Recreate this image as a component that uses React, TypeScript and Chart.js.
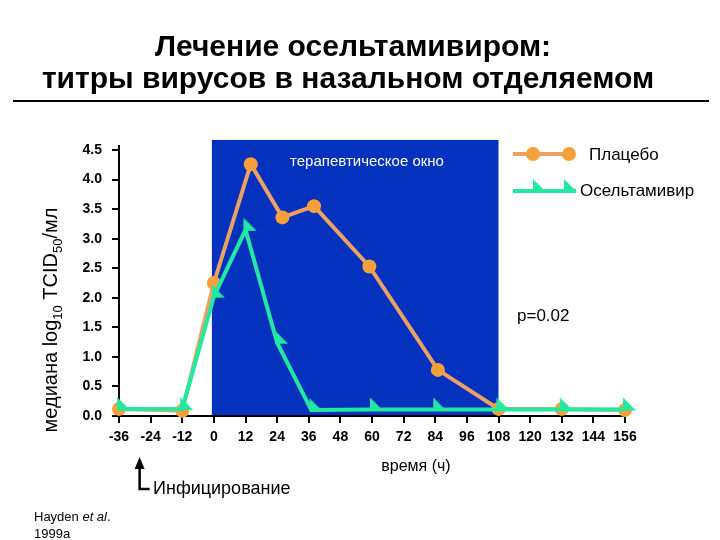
import React, { useEffect, useRef } from "react";
import { Chart, registerables } from "chart.js";

Chart.register(...registerables);

// ---- data ----
const xTickMin = -36;
const xTickMax = 156;
const xTickStep = 12;
const yTickMin = 0;
const yTickMax = 4.5;
const yTickStep = 0.5;

const placeboHours = [-36, -12, 0, 14, 26, 38, 59, 85, 108, 132, 156];
const placeboTiter = [0.12, 0.09, 2.25, 4.26, 3.36, 3.55, 2.53, 0.78, 0.12, 0.12, 0.1];

const oseltamivirHours = [-36, -12, 0, 12, 24, 37, 60, 84, 108, 132, 156];
const oseltamivirTiter = [0.12, 0.12, 2.02, 3.15, 1.24, 0.1, 0.11, 0.11, 0.11, 0.11, 0.11];

const windowStart = 0;
const windowEnd = 108;
const windowTop = 4.67;
const infectionHour = -24;

const titleLines = ["Лечение осельтамивиром:", "титры вирусов в назальном отделяемом"];
const seriesNames = ["Плацебо", "Осельтамивир"];
const windowLabel = "терапевтическое окно";
const pValueLabel = "p=0.02";
const xTitle = "время (ч)";
const infectionLabel = "Инфицирование";

// ---- styles ----
const FONT = '"Liberation Sans", Arial, Helvetica, sans-serif';
const BLUE = "#0431BE";
const ORANGE_LINE = "#EBA064";
const ORANGE_PT = "#F6A03C";
const GREEN = "#22E8A2";

function makeTriangle(): HTMLCanvasElement {
  const c = document.createElement("canvas");
  c.width = 26;
  c.height = 26;
  const g = c.getContext("2d")!;
  g.fillStyle = GREEN;
  g.beginPath();
  g.moveTo(11, 1);
  g.lineTo(11, 14);
  g.lineTo(24, 14);
  g.closePath();
  g.fill();
  return c;
}

export default function App() {
  const ref = useRef<HTMLCanvasElement | null>(null);

  useEffect(() => {
    if (!ref.current) return;
    const tri = makeTriangle();

    const annot = {
      id: "annot",
      beforeDraw(chart: any) {
        const { ctx, scales, chartArea } = chart;
        const x = scales.x;
        const y = scales.y;
        ctx.save();
        ctx.fillStyle = BLUE;
        const l = x.getPixelForValue(windowStart) - 2;
        const r = x.getPixelForValue(windowEnd);
        const t = y.getPixelForValue(windowTop);
        ctx.fillRect(l, t, r - l, chartArea.bottom - t);
        ctx.restore();
      },
      afterDraw(chart: any) {
        const { ctx, scales, chartArea } = chart;
        const x = scales.x;
        ctx.save();
        ctx.fillStyle = "#000";

        // extend y axis line slightly above top tick
        ctx.fillRect(chartArea.left - 1, chartArea.top - 5, 2, 6);

        ctx.textAlign = "center";
        ctx.textBaseline = "middle";

        // title
        ctx.font = `bold 30px ${FONT}`;
        ctx.fillText(titleLines[0], 353, 48, 412);
        ctx.fillText(titleLines[1], 348, 80, 616);
        ctx.fillRect(13, 100, 696, 2);

        // window label
        ctx.fillStyle = "#fff";
        ctx.font = `15px ${FONT}`;
        ctx.fillText(windowLabel, 367, 162);

        // p-value
        ctx.fillStyle = "#000";
        ctx.font = `17px ${FONT}`;
        ctx.textAlign = "left";
        ctx.fillText(pValueLabel, 517, 316);

        // legend
        ctx.strokeStyle = ORANGE_LINE;
        ctx.lineWidth = 4;
        ctx.beginPath();
        ctx.moveTo(513, 154);
        ctx.lineTo(572, 154);
        ctx.stroke();
        ctx.fillStyle = ORANGE_PT;
        for (const cx of [533, 569]) {
          ctx.beginPath();
          ctx.arc(cx, 154, 7, 0, Math.PI * 2);
          ctx.fill();
        }
        ctx.strokeStyle = GREEN;
        ctx.beginPath();
        ctx.moveTo(513, 191);
        ctx.lineTo(576, 191);
        ctx.stroke();
        for (const cx of [535, 566]) {
          ctx.drawImage(tri, cx - 13, 191 - 13);
        }
        ctx.fillStyle = "#000";
        ctx.font = `17px ${FONT}`;
        ctx.fillText(seriesNames[0], 589, 155);
        ctx.fillText(seriesNames[1], 580, 191);

        // x title
        ctx.textAlign = "center";
        ctx.font = `16px ${FONT}`;
        ctx.fillText(xTitle, 416, 467);

        // infection arrow
        const ax = x.getPixelForValue(infectionHour) - 11;
        ctx.strokeStyle = "#000";
        ctx.lineWidth = 2.5;
        ctx.beginPath();
        ctx.moveTo(ax, 466);
        ctx.lineTo(ax, 489);
        ctx.lineTo(ax + 10, 489);
        ctx.stroke();
        ctx.beginPath();
        ctx.moveTo(ax, 457);
        ctx.lineTo(ax - 5, 469);
        ctx.lineTo(ax + 5, 469);
        ctx.closePath();
        ctx.fill();
        ctx.textAlign = "left";
        ctx.font = `18px ${FONT}`;
        ctx.fillText(infectionLabel, 153, 489);

        // citation
        ctx.font = `13px ${FONT}`;
        ctx.fillText("Hayden ", 34, 517);
        const w1 = ctx.measureText("Hayden ").width;
        ctx.font = `italic 13px ${FONT}`;
        ctx.fillText("et al", 34 + w1, 517);
        const w2 = ctx.measureText("et al").width;
        ctx.font = `13px ${FONT}`;
        ctx.fillText(".", 34 + w1 + w2, 517);
        ctx.fillText("1999a", 34, 534);

        // y title with subscripts
        ctx.translate(57, 320);
        ctx.rotate(-Math.PI / 2);
        ctx.textBaseline = "alphabetic";
        const parts: [string, boolean][] = [
          ["медиана log", false],
          ["10", true],
          [" TCID", false],
          ["50", true],
          ["/мл", false],
        ];
        const mainFont = `20px ${FONT}`;
        const subFont = `13px ${FONT}`;
        let total = 0;
        for (const [s, sub] of parts) {
          ctx.font = sub ? subFont : mainFont;
          total += ctx.measureText(s).width;
        }
        let px = -total / 2;
        for (const [s, sub] of parts) {
          ctx.font = sub ? subFont : mainFont;
          ctx.fillText(s, px, sub ? 5 : 0);
          px += ctx.measureText(s).width;
        }
        ctx.restore();
      },
    };

    const chart = new Chart(ref.current, {
      type: "line",
      data: {
        datasets: [
          {
            label: seriesNames[0],
            data: placeboHours.map((h, i) => ({ x: h, y: placeboTiter[i] })),
            borderColor: ORANGE_LINE,
            backgroundColor: ORANGE_PT,
            pointBackgroundColor: ORANGE_PT,
            pointBorderWidth: 0,
            pointRadius: 7,
            borderWidth: 4,
            tension: 0,
            clip: false as any,
            order: 1,
          },
          {
            label: seriesNames[1],
            data: oseltamivirHours.map((h, i) => ({ x: h, y: oseltamivirTiter[i] })),
            borderColor: GREEN,
            backgroundColor: GREEN,
            pointStyle: tri as any,
            pointRadius: 8,
            borderWidth: 4,
            tension: 0,
            clip: false as any,
            order: 0,
          },
        ],
      },
      options: {
        responsive: false,
        animation: false,
        devicePixelRatio: 1,
        layout: { padding: { left: 0, right: 95, top: 150, bottom: 0 } },
        plugins: {
          legend: { display: false },
          title: { display: false },
          tooltip: { enabled: false },
        },
        scales: {
          x: {
            type: "linear",
            min: xTickMin,
            max: xTickMax,
            afterFit: (s: any) => {
              s.height = 124;
            },
            ticks: {
              stepSize: xTickStep,
              color: "#000",
              font: { family: FONT, size: 14, weight: "bold" },
              padding: 6,
              maxRotation: 0,
              autoSkip: false,
            },
            grid: {
              drawOnChartArea: false,
              drawTicks: true,
              tickLength: 7,
              color: "#000",
              lineWidth: 2,
            },
            border: { display: true, color: "#000", width: 2 },
          },
          y: {
            type: "linear",
            min: yTickMin,
            max: yTickMax,
            afterFit: (s: any) => {
              s.width = 119;
            },
            ticks: {
              stepSize: yTickStep,
              color: "#000",
              font: { family: FONT, size: 14, weight: "bold" },
              padding: 10,
              callback: (v: any) => Number(v).toFixed(1),
            },
            grid: {
              drawOnChartArea: false,
              drawTicks: true,
              tickLength: 7,
              color: "#000",
              lineWidth: 2,
            },
            border: { display: true, color: "#000", width: 2 },
          },
        },
      },
      plugins: [annot],
    });

    return () => chart.destroy();
  }, []);

  return (
    <div style={{ position: "absolute", left: 0, top: 0, width: 720, height: 540, background: "#fff" }}>
      <canvas ref={ref} width={720} height={540} style={{ width: 720, height: 540, display: "block" }} />
    </div>
  );
}
